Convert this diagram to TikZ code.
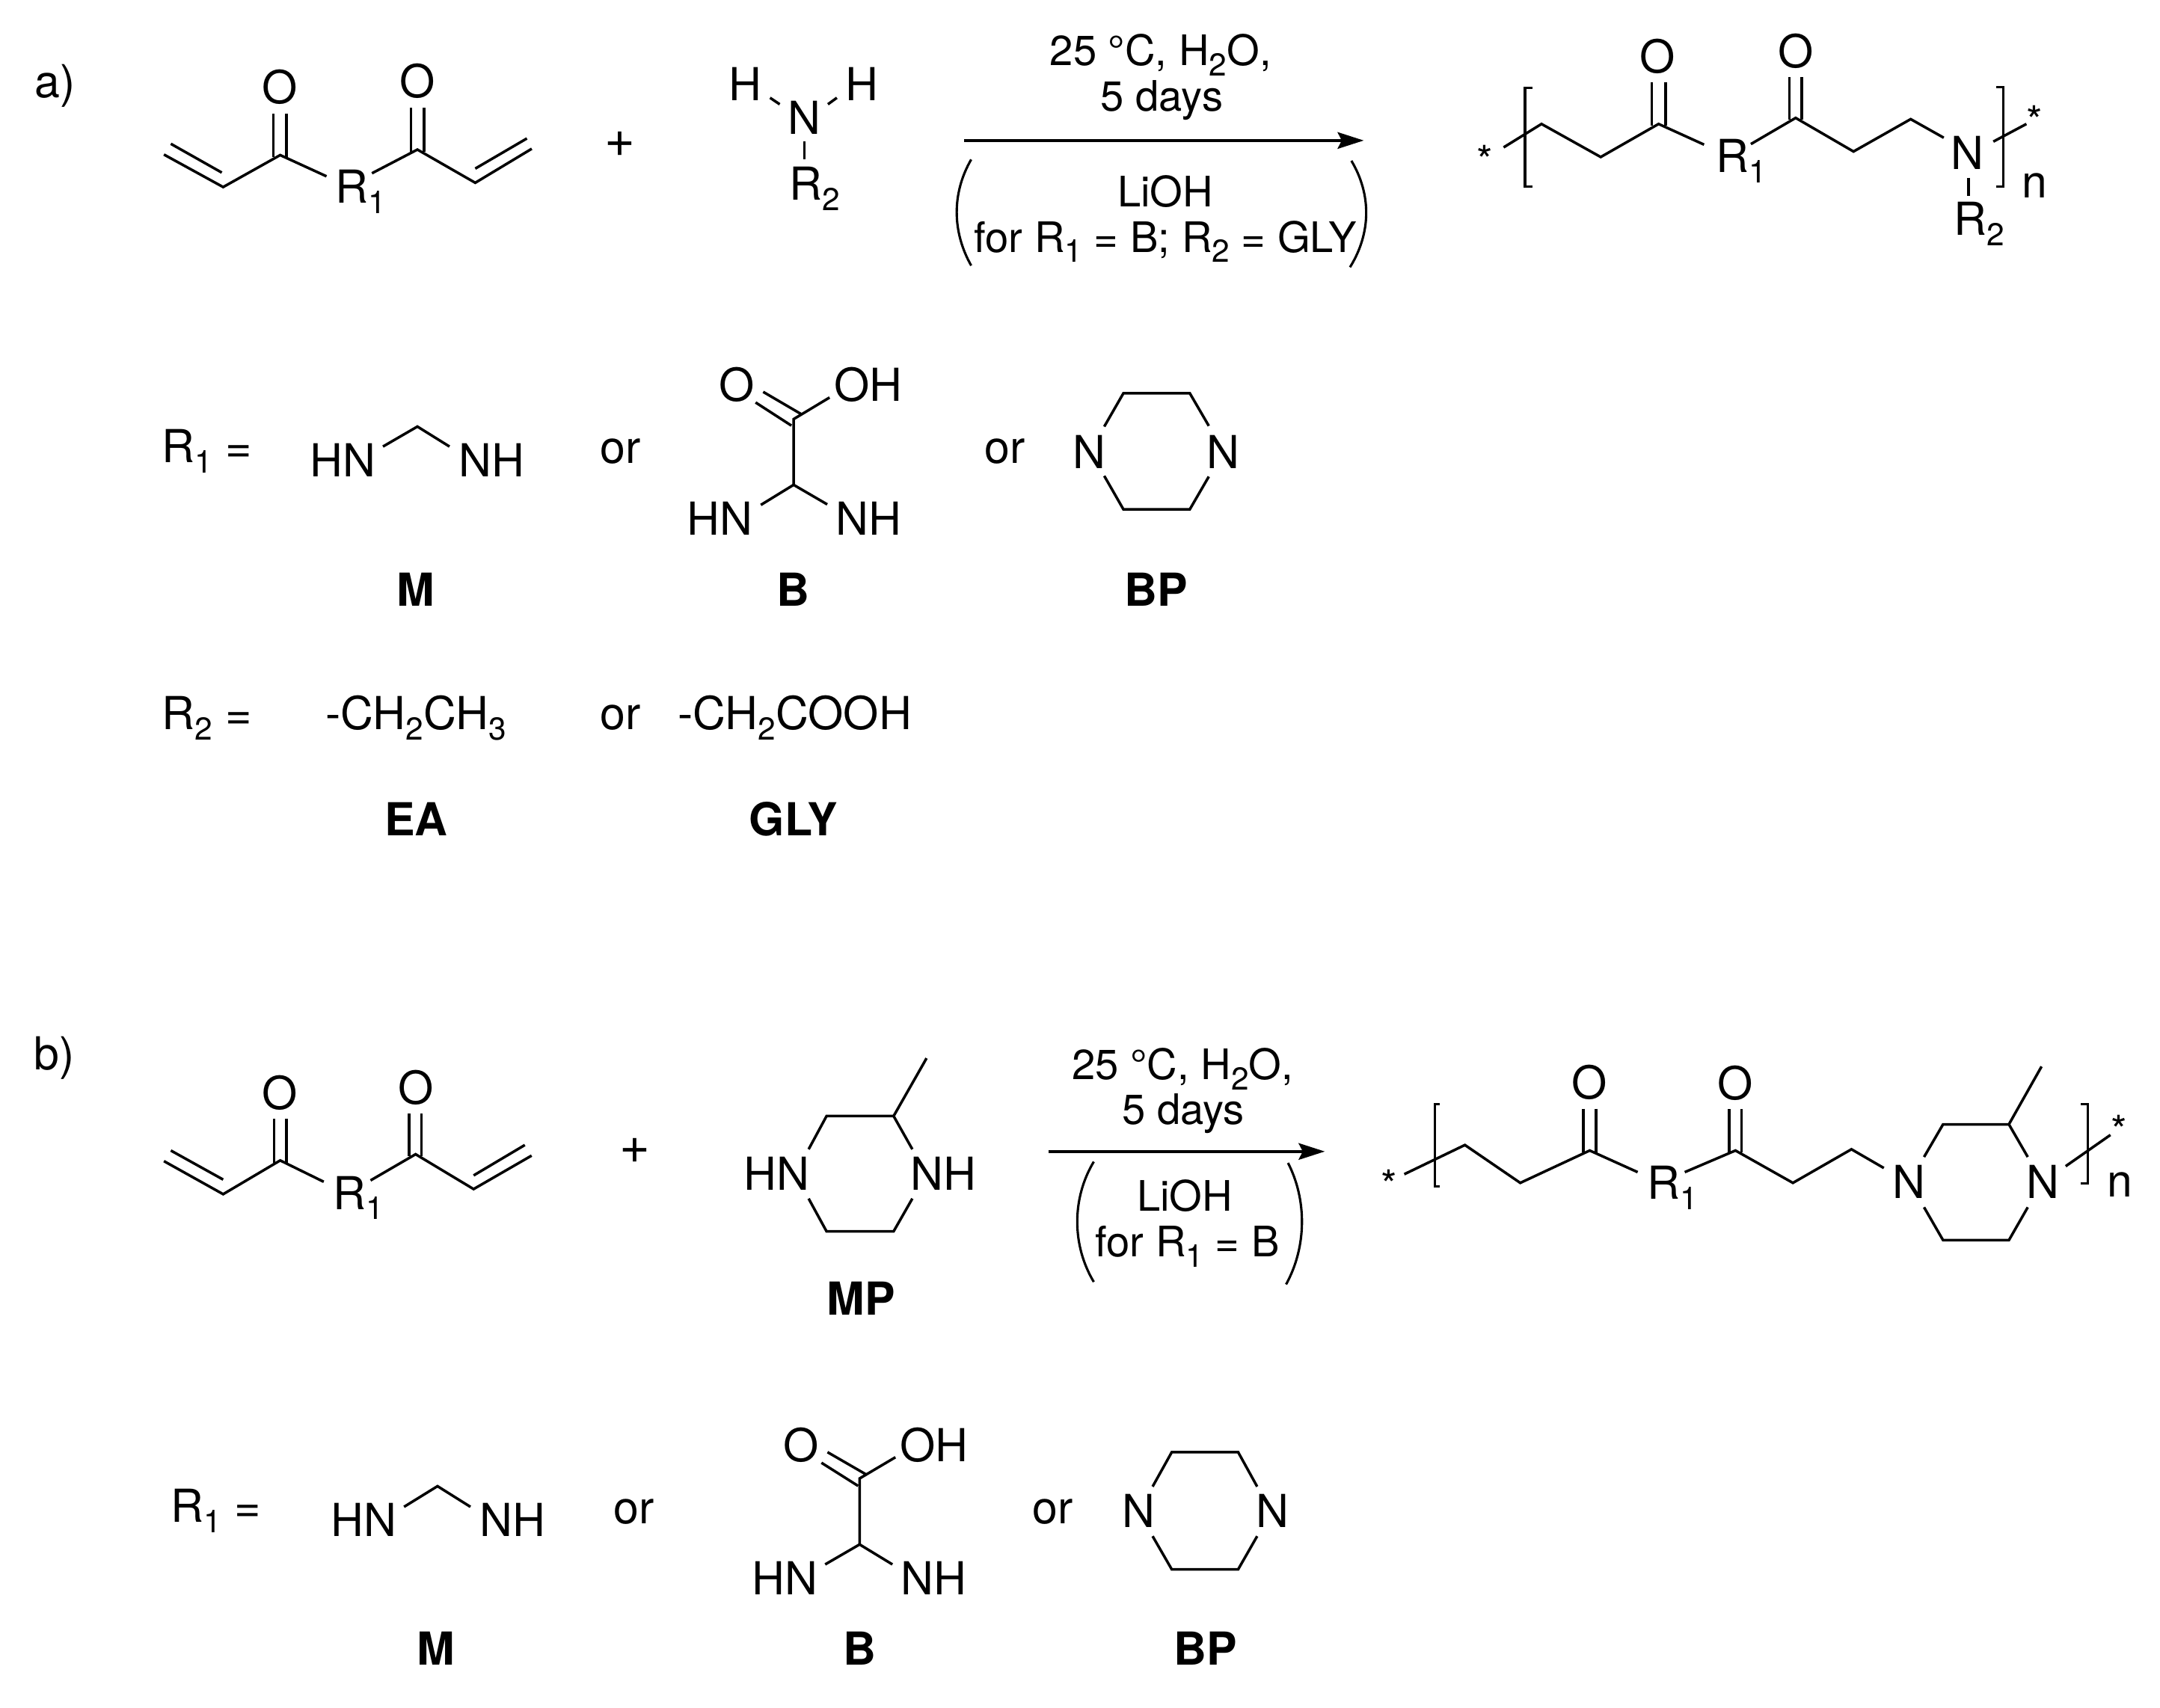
\documentclass[tikz,border=0pt]{standalone}
\usepackage{fontspec}
\setmainfont{TeX Gyre Heros}
\usetikzlibrary{arrows.meta}
\newcommand{\sbs}[1]{\raisebox{-7.5pt}{\fontsize{23}{23}\selectfont #1}}
\tikzset{
  txt/.style={anchor=base,inner sep=0pt,font=\fontsize{33}{38}\selectfont,text=black},
  cond/.style={anchor=base,inner sep=0pt,font=\fontsize{30.5}{36}\selectfont,text=black},
  tag/.style={anchor=base,inner sep=0pt,font=\fontsize{33}{38}\selectfont\bfseries,text=black},
  star/.style={anchor=center,inner sep=0pt,font=\fontsize{30}{30}\selectfont,text=black},
  plus/.style={anchor=base,inner sep=0pt,font=\fontsize{38}{38}\selectfont,text=black},
  bond/.style={draw=black,line width=1.9pt,line cap=butt,line join=miter},
  brk/.style={draw=black,line width=1.7pt},
  paren/.style={draw=black,line width=1.7pt},
  rxn/.style={draw=black,line width=2pt,-{Stealth[length=19pt,width=12pt,inset=3pt]}}
}
\begin{document}
\begin{tikzpicture}[x=1pt,y=-1pt]
\useasboundingbox[fill=white] (0,0) rectangle (1568,1240);

% ---------- panel a: labels
\node[txt] (la) at (40,71) {a)};
\node[plus] (aplus) at (450,114) {+};

% monomer a
\node[txt] (amO1) at (203,75) {O};
\node[txt] (amO2) at (303,71) {O};
\node[txt,anchor=base west] (amR) at (243.5,147.5) {R\sbs{1}};
\foreach \n/\x/\y in {a1/119/112.2,a2/124/104.4,a3/162/135.8,a4/161/125.3,a5/203.4/112.6,a6/237/128,a7/198.5/82.4,a8/208/82.4,a9/198.5/114,a10/208/114,
  a11/270/125.8,a12/303/108.6,a13/298.4/78.2,a14/307.8/78.2,a15/298.4/110,a16/307.8/110,a17/345/132.7,a18/386/108,a19/345/122.4,a20/382.5/100.5}
  {\coordinate (\n) at (\x,\y);}
\draw[bond] (a1)--(a3)--(a5)--(a6);
\draw[bond] (a2)--(a4);
\draw[bond] (a7)--(a9);
\draw[bond] (a8)--(a10);
\draw[bond] (a11)--(a12)--(a17)--(a18);
\draw[bond] (a19)--(a20);
\draw[bond] (a13)--(a15);
\draw[bond] (a14)--(a16);

% amine a
\node[txt] (aH1) at (541,72.8) {H};
\node[txt] (aN) at (584,97.2) {N};
\node[txt] (aH2) at (625.5,72.8) {H};
\node[txt,anchor=base west] (aR2) at (573,145.3) {R\sbs{2}};
\coordinate (b1) at (559,71); \coordinate (b2) at (566,75.7);
\coordinate (b3) at (607.5,71); \coordinate (b4) at (601,75.7);
\coordinate (b5) at (584,102.8); \coordinate (b6) at (584,115.5);
\draw[bond] (b1)--(b2);
\draw[bond] (b3)--(b4);
\draw[bond] (b5)--(b6);

% conditions a
\node[cond] (ac1) at (842.5,47.4) {25 °C, H\sbs{2}O,};
\node[cond] (ac2) at (843.5,80.5) {5 days};
\node[cond] (ac3) at (846,150) {LiOH};
\node[cond] (ac4) at (846,183) {for R\sbs{1} = B; R\sbs{2} = GLY};
\coordinate (ar1) at (700,102); \coordinate (ar2) at (990,102);
\draw[rxn] (ar1)--(ar2);
\coordinate (ap1) at (705,115.8); \coordinate (ap2) at (705,192.8);
\coordinate (ap3) at (691,140); \coordinate (ap3b) at (691,168);
\coordinate (ap4) at (981,116.7); \coordinate (ap5) at (980,194);
\coordinate (ap6) at (995.5,141); \coordinate (ap6b) at (995.5,169);
\draw[paren] (ap1) .. controls (ap3) and (ap3b) .. (ap2);
\draw[paren] (ap4) .. controls (ap6) and (ap6b) .. (ap5);

% polymer a
\node[star] (aS1) at (1078,116.5) {*};
\node[star] (aS2) at (1477,87.5) {*};
\node[txt] (aPO1) at (1203,53) {O};
\node[txt] (aPO2) at (1303.5,49) {O};
\node[txt,anchor=base west] (aPR1) at (1245.5,125) {R\sbs{1}};
\node[txt] (aPN) at (1428,123) {N};
\node[txt,anchor=base west] (aPR2) at (1418,171) {R\sbs{2}};
\node[txt] (aPn) at (1477,143.5) {n};
\foreach \n/\x/\y in {c1/1091.5/107,c2/1119/90,c3/1162/114,c4/1204/90,c5/1237/105,c6/1199/59.7,c7/1209/59.7,c8/1199/91,c9/1209/91,
  c10/1271/104.6,c11/1303.5/85.6,c12/1299/56,c13/1308/56,c14/1299/87,c15/1308/87,c16/1345.5/110,c17/1387/86.5,c18/1411/100,
  c19/1429/129,c20/1429/142,c21/1447/102.8,c22/1471/90,
  d1/1112.5/63.7,d2/1107/63.7,d3/1107/135.4,d4/1112.5/135.4,d5/1449/63.4,d6/1454/63.4,d7/1454/135.4,d8/1449/135.4}
  {\coordinate (\n) at (\x,\y);}
\draw[bond] (c1)--(c2)--(c3)--(c4)--(c5);
\draw[bond] (c6)--(c8);
\draw[bond] (c7)--(c9);
\draw[bond] (c10)--(c11)--(c16)--(c17)--(c18);
\draw[bond] (c12)--(c14);
\draw[bond] (c13)--(c15);
\draw[bond] (c19)--(c20);
\draw[bond] (c21)--(c22);
\draw[brk] (d1)--(d2)--(d3)--(d4);
\draw[brk] (d5)--(d6)--(d7)--(d8);

% R1 table a
\node[txt,anchor=base west] (e1) at (117.5,335.8) {R\sbs{1} =};
\node[txt] (e2) at (249,346.3) {HN};
\node[txt] (e3) at (357,346.3) {NH};
\node[txt] (e4) at (450.6,336.6) {or};
\node[txt] (e5) at (534.6,291.5) {O};
\node[txt] (e6) at (630.5,291.5) {OH};
\node[txt] (e7) at (522.5,388.5) {HN};
\node[txt] (e8) at (630.5,388.5) {NH};
\node[txt] (e9) at (729.6,336.6) {or};
\node[txt] (e10) at (790.7,340) {N};
\node[txt] (e11) at (887.7,340) {N};
\node[tag] (e12) at (302,440) {M};
\node[tag] (e13) at (576,440) {B};
\node[tag] (e14) at (839.3,440) {BP};
\foreach \n/\x/\y in {f1/278/324.2,f2/303/309.7,f3/326.3/324.2,
  f4/548.5/292.2,f5/574.5/309,f6/554/284.5,f7/581.7/300.7,f8/576.1/304.3,f9/602.2/288.6,f10/576.1/352,f11/552.3/366.6,f12/600.5/366.2,
  g1/801.6/309.7,g2/815.5/285.5,g3/863.7/285.5,g4/877.5/309.2,g5/877.5/346,g6/863.7/369.8,g7/815.5/369.8,g8/801.6/345.5}
  {\coordinate (\n) at (\x,\y);}
\draw[bond] (f1)--(f2)--(f3);
\draw[bond] (f4)--(f5);
\draw[bond] (f6)--(f7);
\draw[bond] (f9)--(f8)--(f10);
\draw[bond] (f11)--(f10)--(f12);
\draw[bond] (g1)--(g2)--(g3)--(g4);
\draw[bond] (g5)--(g6)--(g7)--(g8);

% R2 table a
\node[txt,anchor=base west] (h1) at (117.5,529.8) {R\sbs{2} =};
\node[txt] (h2) at (302,529.8) {-CH\sbs{2}CH\sbs{3}};
\node[txt] (h3) at (450.6,529.8) {or};
\node[txt] (h4) at (577,529.8) {-CH\sbs{2}COOH};
\node[tag] (h5) at (302,606.6) {EA};
\node[tag] (h6) at (576,606.6) {GLY};

% ---------- panel b
\node[txt] (lb) at (39.5,776.8) {b)};
\node[plus] (bplus) at (460.7,844.5) {+};
\node[txt] (bmO1) at (203.4,805.5) {O};
\node[txt] (bmO2) at (301.7,801.5) {O};
\node[txt,anchor=base west] (bmR) at (241.5,878) {R\sbs{1}};
\foreach \n/\x/\y in {i1/119/843,i2/124/835.3,i3/162/867,i4/162/856.4,i5/203.4/842.5,i6/235/858,i7/199/812.3,i8/208/812.3,i9/199/844,i10/208/844,
  i11/269/857,i12/301.7/838,i13/297/808.5,i14/306/808.5,i15/297/839.5,i16/306/839.5,i17/343.8/863.3,i18/385.9/839,i19/343.8/853.4,i20/381/831.3}
  {\coordinate (\n) at (\x,\y);}
\draw[bond] (i1)--(i3)--(i5)--(i6);
\draw[bond] (i2)--(i4);
\draw[bond] (i7)--(i9);
\draw[bond] (i8)--(i10);
\draw[bond] (i11)--(i12)--(i17)--(i18);
\draw[bond] (i19)--(i20);
\draw[bond] (i13)--(i15);
\draw[bond] (i14)--(i16);

% MP
\node[txt] (j1) at (564,864) {HN};
\node[txt] (j2) at (685,864) {NH};
\node[tag] (j3) at (625,954.7) {MP};
\foreach \n/\x/\y in {k1/587/834.4,k2/600/810.3,k3/648.7/810.3,k4/672.6/768.3,k5/662.3/834.4,k6/587/870.2,k7/600/894,k8/648.7/894,k9/662.3/870.2}
  {\coordinate (\n) at (\x,\y);}
\draw[bond] (k1)--(k2)--(k3)--(k5);
\draw[bond] (k3)--(k4);
\draw[bond] (k6)--(k7)--(k8)--(k9);

% conditions b
\node[cond] (bc1) at (858.5,783.7) {25 °C, H\sbs{2}O,};
\node[cond] (bc2) at (859,816.5) {5 days};
\node[cond] (bc3) at (860,879) {LiOH};
\node[cond] (bc4) at (862,912.6) {for R\sbs{1} = B};
\coordinate (br1) at (761,836); \coordinate (br2) at (961.7,836);
\draw[rxn] (br1)--(br2);
\coordinate (bp1) at (794,843.4); \coordinate (bp2) at (794,930.7);
\coordinate (bp3) at (778,870); \coordinate (bp3b) at (778,904);
\coordinate (bp4) at (935,844.3); \coordinate (bp5) at (933.6,932.5);
\coordinate (bp6) at (948.7,871); \coordinate (bp6b) at (948.7,905);
\draw[paren] (bp1) .. controls (bp3) and (bp3b) .. (bp2);
\draw[paren] (bp4) .. controls (bp6) and (bp6b) .. (bp5);

% polymer b
\node[star] (bS1) at (1008.4,860.4) {*};
\node[star] (bS2) at (1538,820.5) {*};
\node[txt] (bPO1) at (1154,798) {O};
\node[txt] (bPO2) at (1259.8,798.5) {O};
\node[txt,anchor=base west] (bPR1) at (1195.5,870.6) {R\sbs{1}};
\node[txt] (bPN1) at (1386,870) {N};
\node[txt] (bPN2) at (1483,870) {N};
\node[txt] (bPn) at (1539,868.8) {n};
\foreach \n/\x/\y in {m1/1019.4/852.5,m2/1063.4/831.3,m3/1103.6/858.8,m4/1154/835.3,m5/1188.8/851,m6/1149.5/804.9,m7/1158.5/804.9,m8/1149.5/836.5,m9/1158.5/836.5,
  m10/1223/851,m11/1259.8/835.3,m12/1255.3/805.4,m13/1264.3/805.4,m14/1255.3/836.5,m15/1264.3/836.5,m16/1301.5/858.8,m17/1344/834.4,m18/1367.5/848,
  n1/1396.7/840,n2/1410.5/816.3,n3/1458.3/816.3,n4/1482/774.3,n5/1472/840,n6/1396.7/876.5,n7/1410.5/900.4,n8/1458.3/900.4,n9/1472/876.5,
  n10/1499.5/846.7,n11/1532/824,
  o1/1045/801.8,o2/1041.4/801.8,o3/1041.4/861.5,o4/1045/861.5,o5/1510.5/801.4,o6/1515.5/801.4,o7/1515.5/859.3,o8/1510.5/859.3}
  {\coordinate (\n) at (\x,\y);}
\draw[bond] (m1)--(m2)--(m3)--(m4)--(m5);
\draw[bond] (m6)--(m8);
\draw[bond] (m7)--(m9);
\draw[bond] (m10)--(m11)--(m16)--(m17)--(m18);
\draw[bond] (m12)--(m14);
\draw[bond] (m13)--(m15);
\draw[bond] (n1)--(n2)--(n3)--(n5);
\draw[bond] (n3)--(n4);
\draw[bond] (n6)--(n7)--(n8)--(n9);
\draw[bond] (n10)--(n11);
\draw[brk] (o1)--(o2)--(o3)--(o4);
\draw[brk] (o5)--(o6)--(o7)--(o8);

% R1 table b
\node[txt,anchor=base west] (q1) at (124,1105) {R\sbs{1} =};
\node[txt] (q2) at (264,1115.5) {HN};
\node[txt] (q3) at (372,1115.5) {NH};
\node[txt] (q4) at (460.3,1106) {or};
\node[txt] (q5) at (581.3,1061) {O};
\node[txt] (q6) at (678,1061) {OH};
\node[txt] (q7) at (569.7,1158) {HN};
\node[txt] (q8) at (677.8,1158) {NH};
\node[txt] (q9) at (764.4,1106) {or};
\node[txt] (q10) at (826.5,1109) {N};
\node[txt] (q11) at (923.5,1109) {N};
\node[tag] (q12) at (316.5,1209) {M};
\node[tag] (q13) at (624,1209) {B};
\node[tag] (q14) at (875,1209) {BP};
\foreach \n/\x/\y in {r1/293.3/1094,r2/317.6/1079,r3/341.5/1094,
  r4/596.3/1062,r5/622.9/1078.8,r6/600.7/1054.3,r7/628.4/1070.3,r8/624/1073.4,r9/650/1058,r10/624/1121.3,r11/599/1135.8,r12/647.8/1135.8,
  s1/836.7/1079.3,s2/850.6/1054.3,s3/898.8/1054.3,s4/912.6/1079.3,s5/912.6/1115.3,s6/898.8/1139.4,s7/850.6/1139.4,s8/836.7/1115.3}
  {\coordinate (\n) at (\x,\y);}
\draw[bond] (r1)--(r2)--(r3);
\draw[bond] (r4)--(r5);
\draw[bond] (r6)--(r7);
\draw[bond] (r9)--(r8)--(r10);
\draw[bond] (r11)--(r10)--(r12);
\draw[bond] (s1)--(s2)--(s3)--(s4);
\draw[bond] (s5)--(s6)--(s7)--(s8);
\end{tikzpicture}
\end{document}
